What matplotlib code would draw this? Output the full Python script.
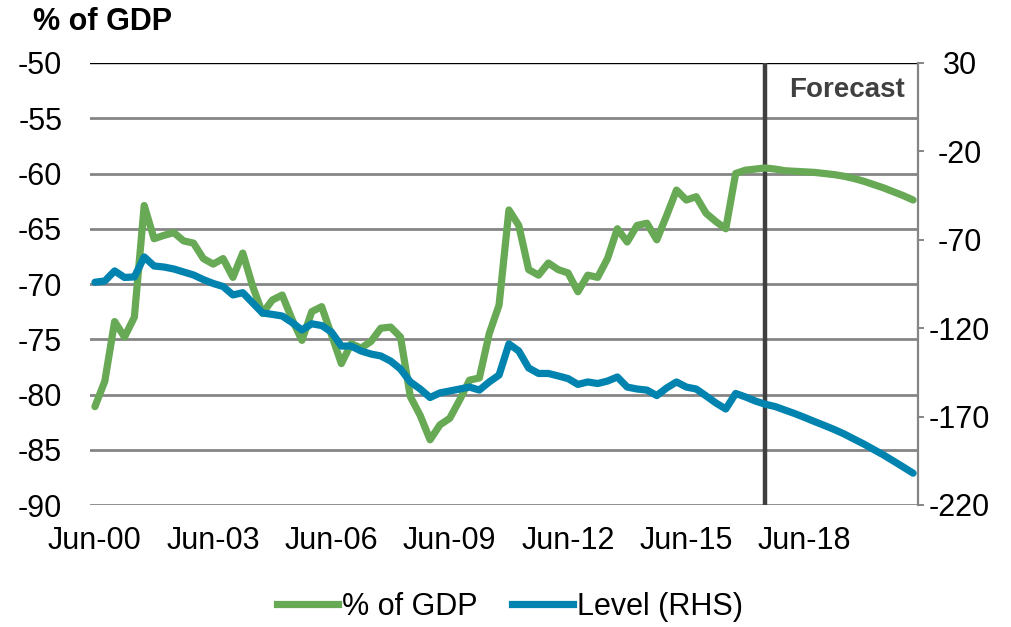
import numpy as np
import pandas as pd
import matplotlib
matplotlib.use("Agg")
import matplotlib.pyplot as plt
from matplotlib.lines import Line2D

plt.rcParams['font.family'] = ['Liberation Sans', 'DejaVu Sans']

# Quarterly data, Jun-00 .. Mar-21
quarters = pd.date_range('2000-06-30', periods=84, freq='QE')

pct_gdp = [
    -81.1, -78.8, -73.4, -74.8, -73.0, -62.9, -65.9, -65.6, -65.35, -66.1,
    -66.3, -67.7, -68.2, -67.7, -69.4, -67.2, -70.2, -72.65, -71.45, -71.0,
    -73.2, -75.1, -72.5, -72.05, -74.6, -77.2, -75.4, -75.8, -75.2, -74.0,
    -73.9, -74.8, -80.2, -81.9, -84.1, -82.75, -82.15, -80.5, -78.7, -78.5,
    -74.5, -71.9, -63.3, -64.7, -68.7, -69.2, -68.1, -68.7, -69.0, -70.7,
    -69.2, -69.4, -67.7, -65.0, -66.2, -64.7, -64.5, -66.0, -63.8, -61.5,
    -62.4, -62.1, -63.6, -64.35, -65.0, -60.0, -59.7, -59.6, -59.5, -59.6,
    -59.75, -59.8, -59.85, -59.9, -60.0, -60.1, -60.25, -60.45, -60.7, -61.0,
    -61.3, -61.65, -62.0, -62.4,
]

level_rhs = [
    -94.0, -93.3, -87.6, -91.3, -91.0, -79.7, -84.8, -85.4, -86.5, -88.2,
    -89.9, -92.5, -94.7, -96.4, -101.2, -99.9, -105.7, -111.4, -112.2, -113.1,
    -116.8, -121.0, -117.5, -118.5, -122.2, -130.1, -130.1, -132.9, -134.6, -135.7,
    -138.6, -143.1, -150.4, -154.4, -159.2, -156.6, -155.5, -154.4, -153.3, -155.0,
    -150.4, -146.5, -128.9, -132.9, -142.5, -145.6, -145.6, -147.0, -148.5, -151.8,
    -150.4, -151.3, -149.9, -147.6, -153.3, -154.4, -155.0, -158.1, -153.8, -150.4,
    -153.3, -154.4, -158.3, -162.3, -165.7, -156.9, -158.9, -161.2, -163.0, -164.3,
    -166.3, -168.3, -170.5, -172.8, -175.0, -177.3, -179.8, -182.7, -185.5, -188.6,
    -191.7, -195.1, -198.5, -202.0,
]

left_ticks = [-50, -55, -60, -65, -70, -75, -80, -85, -90]
right_ticks = [30, -20, -70, -120, -170, -220]
xtick_labels = ["Jun-00", "Jun-03", "Jun-06", "Jun-09", "Jun-12", "Jun-15", "Jun-18"]
forecast_start = "Jun-17"

labels_all = [d.strftime('%b-%y') for d in quarters]
x = np.arange(len(quarters))
xtick_pos = [labels_all.index(l) for l in xtick_labels]
fc_pos = labels_all.index(forecast_start)

GREEN = '#67A955'
BLUE = '#0083AE'
GRID = '#858585'

fig = plt.figure(figsize=(10.12, 6.27), dpi=100)
ax = fig.add_axes([90/1012, 1-505/627, 828/1012, 442/627])
ax2 = ax.twinx()

ax.set_xlim(-0.5, len(x) - 0.5)
ax.set_ylim(-90, -50)
ax2.set_ylim(-220, 30)

for t in left_ticks[1:]:
    ax.axhline(t, color=GRID, lw=2.0, zorder=1)
ax.axhline(-50, color='black', lw=1.0, zorder=1)

ax.axvline(fc_pos, color='#3F3F3F', lw=3.2, zorder=2)

ax.plot(x, pct_gdp, color=GREEN, lw=5.2, solid_joinstyle='round',
        solid_capstyle='round', zorder=3)
ax2.plot(x, level_rhs, color=BLUE, lw=5.2, solid_joinstyle='round',
         solid_capstyle='round', zorder=3)

for a in (ax, ax2):
    for s in ('top', 'bottom', 'left'):
        a.spines[s].set_visible(False)
ax.spines['right'].set_visible(False)
ax2.spines['right'].set_color(GRID)
ax2.spines['right'].set_linewidth(1.6)

ax.set_yticks(left_ticks)
ax.set_yticklabels([str(t) for t in left_ticks])
ax.tick_params(axis='y', length=0, pad=20, labelsize=22)
ax.set_xticks(xtick_pos)
ax.set_xticklabels(xtick_labels)
ax.tick_params(axis='x', length=0, pad=15, labelsize=22)

ax2.set_yticks(right_ticks)
ax2.set_yticklabels([str(t) for t in right_ticks])
ax2.tick_params(axis='y', length=4, width=1.4, color=GRID, direction='out',
                pad=26, labelsize=22)
for lab in ax2.get_yticklabels():
    lab.set_horizontalalignment('center')

ax.text((905-90)/828, 1-(90-63)/442, 'Forecast', transform=ax.transAxes,
        ha='right', va='center', fontsize=20, fontweight='bold', color='#404040')

fig.text(33/1012, 1-22/627, '% of GDP', ha='left', va='center',
         fontsize=22, fontweight='bold')

handles = [Line2D([], [], color=GREEN, lw=5.2),
           Line2D([], [], color=BLUE, lw=5.2)]
fig.legend(handles, ['% of GDP', 'Level (RHS)'], loc='center',
           bbox_to_anchor=(510/1012, 1-607/627), ncol=2, frameon=False,
           fontsize=22, handlelength=2.0, handletextpad=0.15,
           columnspacing=1.1, borderaxespad=0)

fig.savefig('out.png', dpi=100)
